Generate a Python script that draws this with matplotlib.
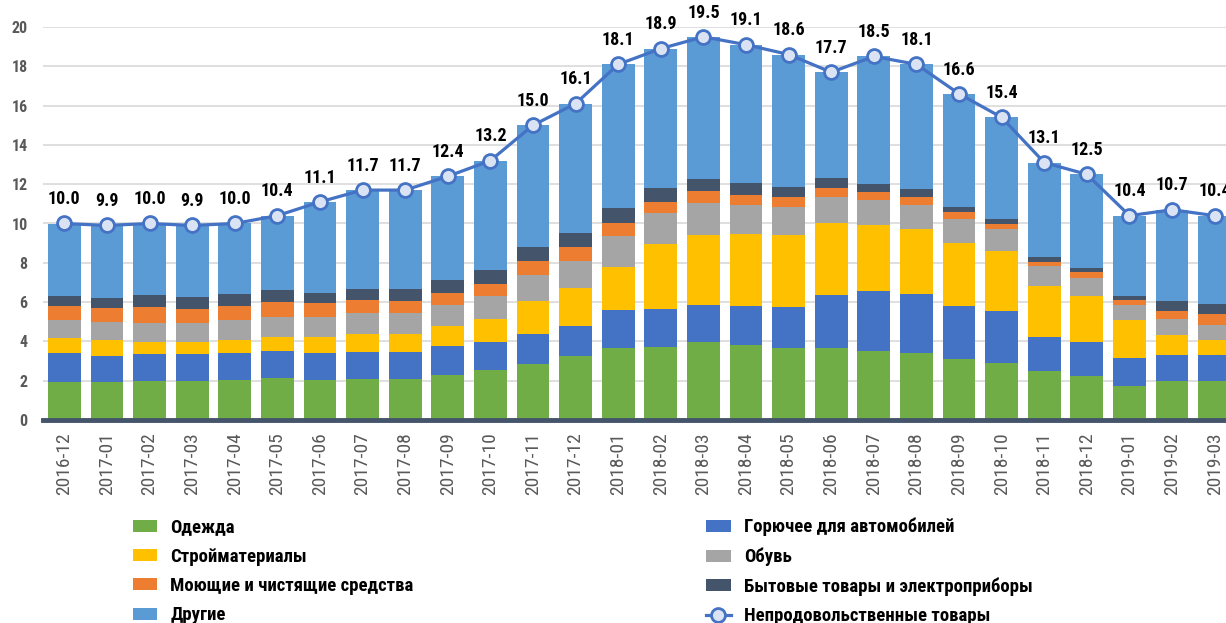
import matplotlib
matplotlib.use('Agg')
import matplotlib.pyplot as plt
from matplotlib import font_manager

months = ['2016-12', '2017-01', '2017-02', '2017-03', '2017-04', '2017-05', '2017-06',
          '2017-07', '2017-08', '2017-09', '2017-10', '2017-11', '2017-12', '2018-01',
          '2018-02', '2018-03', '2018-04', '2018-05', '2018-06', '2018-07', '2018-08',
          '2018-09', '2018-10', '2018-11', '2018-12', '2019-01', '2019-02', '2019-03']

clothes = [1.95, 1.95, 1.98, 1.98, 2.03, 2.12, 2.03, 2.08, 2.09, 2.31, 2.53, 2.86, 3.25, 3.68,
           3.71, 3.98, 3.83, 3.68, 3.66, 3.53, 3.42, 3.12, 2.90, 2.51, 2.25, 1.75, 1.97, 1.97]
fuel = [1.46, 1.32, 1.36, 1.36, 1.36, 1.37, 1.38, 1.38, 1.38, 1.44, 1.44, 1.50, 1.51, 1.90,
        1.95, 1.88, 1.95, 2.07, 2.71, 3.05, 3.00, 2.66, 2.66, 1.71, 1.73, 1.40, 1.35, 1.32]
building = [0.76, 0.80, 0.64, 0.64, 0.68, 0.73, 0.81, 0.90, 0.89, 1.01, 1.18, 1.72, 1.95, 2.23,
            3.31, 3.56, 3.69, 3.67, 3.65, 3.32, 3.31, 3.24, 3.02, 2.61, 2.34, 1.95, 0.99, 0.79]
shoes = [0.90, 0.90, 0.94, 0.94, 1.00, 1.02, 1.02, 1.06, 1.07, 1.07, 1.16, 1.31, 1.36, 1.53,
         1.56, 1.63, 1.48, 1.44, 1.35, 1.30, 1.22, 1.22, 1.15, 1.03, 0.93, 0.76, 0.83, 0.77]
detergents = [0.73, 0.71, 0.84, 0.72, 0.73, 0.76, 0.69, 0.68, 0.64, 0.64, 0.61, 0.68, 0.73, 0.71,
              0.57, 0.58, 0.52, 0.51, 0.46, 0.39, 0.41, 0.32, 0.25, 0.17, 0.26, 0.24, 0.42, 0.56]
household = [0.52, 0.54, 0.60, 0.61, 0.61, 0.61, 0.53, 0.59, 0.58, 0.67, 0.72, 0.73, 0.71, 0.75,
             0.71, 0.64, 0.58, 0.51, 0.48, 0.44, 0.42, 0.29, 0.26, 0.26, 0.25, 0.19, 0.49, 0.51]
others = [3.68, 3.68, 3.64, 3.65, 3.59, 3.79, 4.64, 5.01, 5.05, 5.26, 5.56, 6.20, 6.59, 7.30,
          7.09, 7.23, 7.05, 6.72, 5.39, 6.47, 6.32, 5.75, 5.16, 4.81, 4.74, 4.11, 4.65, 4.48]
total = [10.0, 9.9, 10.0, 9.9, 10.0, 10.4, 11.1, 11.7, 11.7, 12.4, 13.2, 15.0, 16.1, 18.1,
         18.9, 19.5, 19.1, 18.6, 17.7, 18.5, 18.1, 16.6, 15.4, 13.1, 12.5, 10.4, 10.7, 10.4]

# bottom-to-top order of the stack
series = [
    ('Одежда', clothes, '#70AD47'),
    ('Горючее для автомобилей', fuel, '#4472C4'),
    ('Стройматериалы', building, '#FFC000'),
    ('Обувь', shoes, '#A5A5A5'),
    ('Моющие и чистящие средства', detergents, '#ED7D31'),
    ('Бытовые товары и электроприборы', household, '#44546A'),
    ('Другие', others, '#5B9BD5'),
]

# prefer a condensed face if one happens to be installed
installed = {f.name for f in font_manager.fontManager.ttflist}
font = 'Liberation Sans'
for cand in ['Liberation Sans Narrow', 'Roboto Condensed', 'Arial Narrow']:
    if cand in installed:
        font = cand
        break
narrow = font != 'Liberation Sans'
plt.rcParams['font.family'] = [font, 'DejaVu Sans']

label_size = 13 if narrow else 12.5
legend_size = 13.5 if narrow else 12
col_space = 15.6 if narrow else 17
row_space = 0.6 if narrow else 0.62

W, H = 1226, 623
fig = plt.figure(figsize=(W / 100, H / 100), dpi=100)
ax = fig.add_axes([43 / W, (H - 420) / H, (1236 - 43) / W, (420 - 27) / H])

x = list(range(len(months)))
bottom = [0.0] * len(months)
bars = {}
for name, vals, color in series:
    bars[name] = ax.bar(x, vals, width=0.77, bottom=bottom, color=color, zorder=2)
    bottom = [b + v for b, v in zip(bottom, vals)]

line, = ax.plot(x, total, color='#4472C4', lw=2.3, marker='o', ms=10,
                mfc='#DAE3F3', mec='#4472C4', mew=2, zorder=4, clip_on=False)
for xi, v in zip(x, total):
    ax.annotate('{:.1f}'.format(v), (xi, v), xytext=(0, 11), textcoords='offset points',
                ha='center', va='bottom', fontsize=label_size, fontweight='bold', color='black',
                annotation_clip=False)

ax.set_xlim(-0.5, len(months) - 0.5)
ax.set_ylim(0, 20)
ax.set_yticks(range(0, 21, 2))
ax.yaxis.grid(True, color='#D9D9D9', lw=1.2, zorder=0)
ax.set_axisbelow(True)
ax.set_xticks(x)
ax.set_xticklabels(months, rotation=90, fontsize=14, color='#595959')
for lbl in ax.get_yticklabels():
    lbl.set_fontweight('bold')
ax.tick_params(axis='y', length=0, pad=11, labelsize=11.5, labelcolor='#595959')
ax.tick_params(axis='x', length=0, pad=9)
for s in ['top', 'right', 'left']:
    ax.spines[s].set_visible(False)
ax.spines['bottom'].set_color('#44546A')
ax.spines['bottom'].set_linewidth(3.5)
ax.spines['bottom'].set_zorder(3)

handles = [bars['Одежда'], bars['Стройматериалы'], bars['Моющие и чистящие средства'], bars['Другие'],
           bars['Горючее для автомобилей'], bars['Обувь'], bars['Бытовые товары и электроприборы'], line]
labels = ['Одежда', 'Стройматериалы', 'Моющие и чистящие средства', 'Другие',
          'Горючее для автомобилей', 'Обувь', 'Бытовые товары и электроприборы', 'Непродовольственные товары']
fig.legend(handles, labels, loc='upper left', bbox_to_anchor=(133 / W, 1 - 518 / H), ncol=2,
           frameon=False, borderpad=0, borderaxespad=0, handlelength=1.3, handleheight=0.6,
           handletextpad=0.7, labelspacing=row_space, columnspacing=col_space,
           prop={'size': legend_size, 'weight': 'bold'})

fig.savefig('out.png', dpi=100)
